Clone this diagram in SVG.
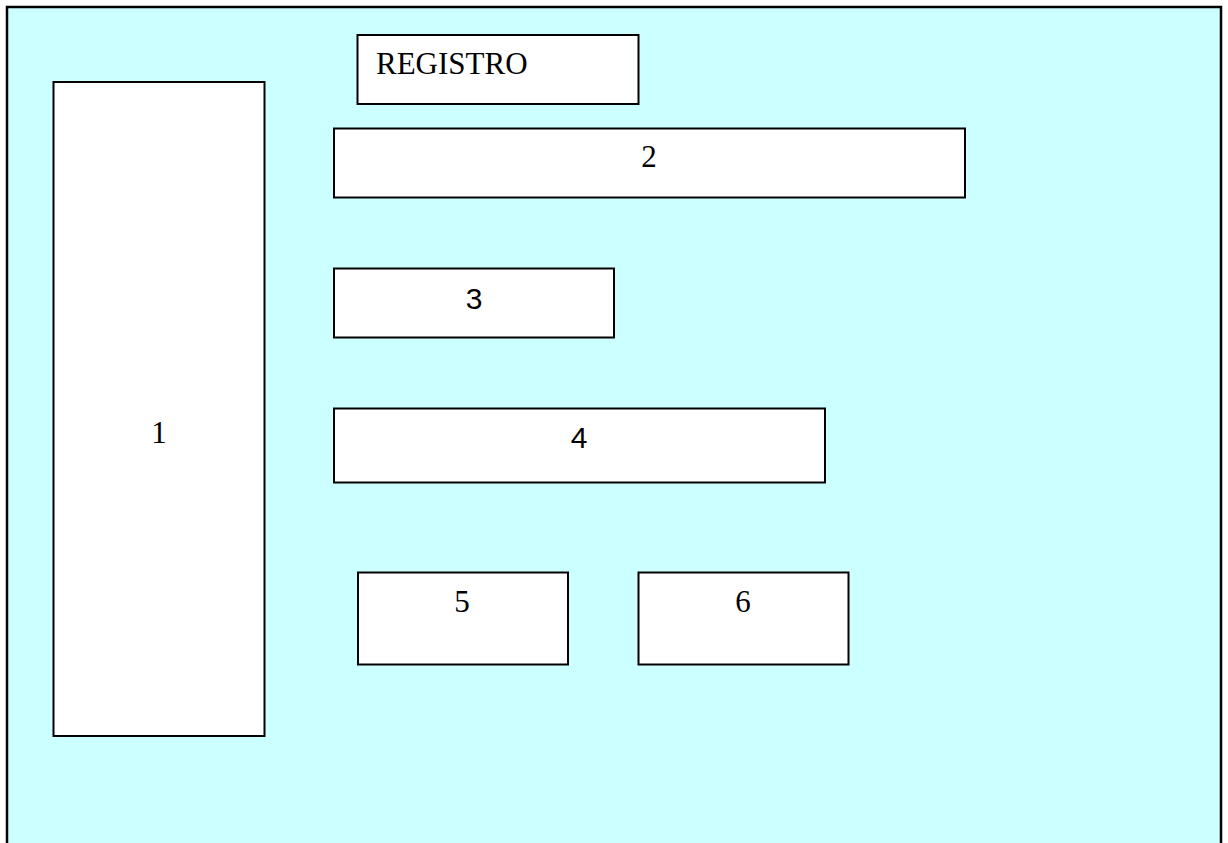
<svg xmlns="http://www.w3.org/2000/svg" width="1228" height="843" viewBox="0 0 1228 843">
<style>
.box{fill:#ffffff;stroke:#000000;stroke-width:2}
.serif{font-family:"Liberation Serif","Times New Roman",serif;font-size:31px;fill:#000000}
.sans{font-family:"Liberation Sans",Arial,sans-serif;font-size:30px;fill:#000000}
</style>
<rect x="0" y="0" width="1228" height="843" fill="#ffffff"/>
<rect id="frame" x="7" y="7" width="1214" height="850" fill="#ccffff" stroke="#000000" stroke-width="2.5"/>
<g id="node1"><rect class="box" x="53.5" y="82" width="211" height="654"/><text class="serif" x="159" y="443" text-anchor="middle">1</text></g>
<g id="registro"><rect class="box" x="357.5" y="35" width="281" height="69"/><text class="serif" x="376" y="74">REGISTRO</text></g>
<g id="node2"><rect class="box" x="334" y="128.5" width="631" height="69"/><text class="serif" x="649" y="167" text-anchor="middle">2</text></g>
<g id="node3"><rect class="box" x="334" y="268.5" width="280" height="69"/><text class="sans" x="474" y="309" text-anchor="middle">3</text></g>
<g id="node4"><rect class="box" x="334" y="408.5" width="491" height="74"/><text class="sans" x="579" y="448" text-anchor="middle">4</text></g>
<g id="node5"><rect class="box" x="358" y="572.5" width="210" height="92"/><text class="serif" x="462" y="612" text-anchor="middle">5</text></g>
<g id="node6"><rect class="box" x="638.5" y="572.5" width="210" height="92"/><text class="serif" x="743" y="612" text-anchor="middle">6</text></g>
<g id="connectors"></g>
</svg>
